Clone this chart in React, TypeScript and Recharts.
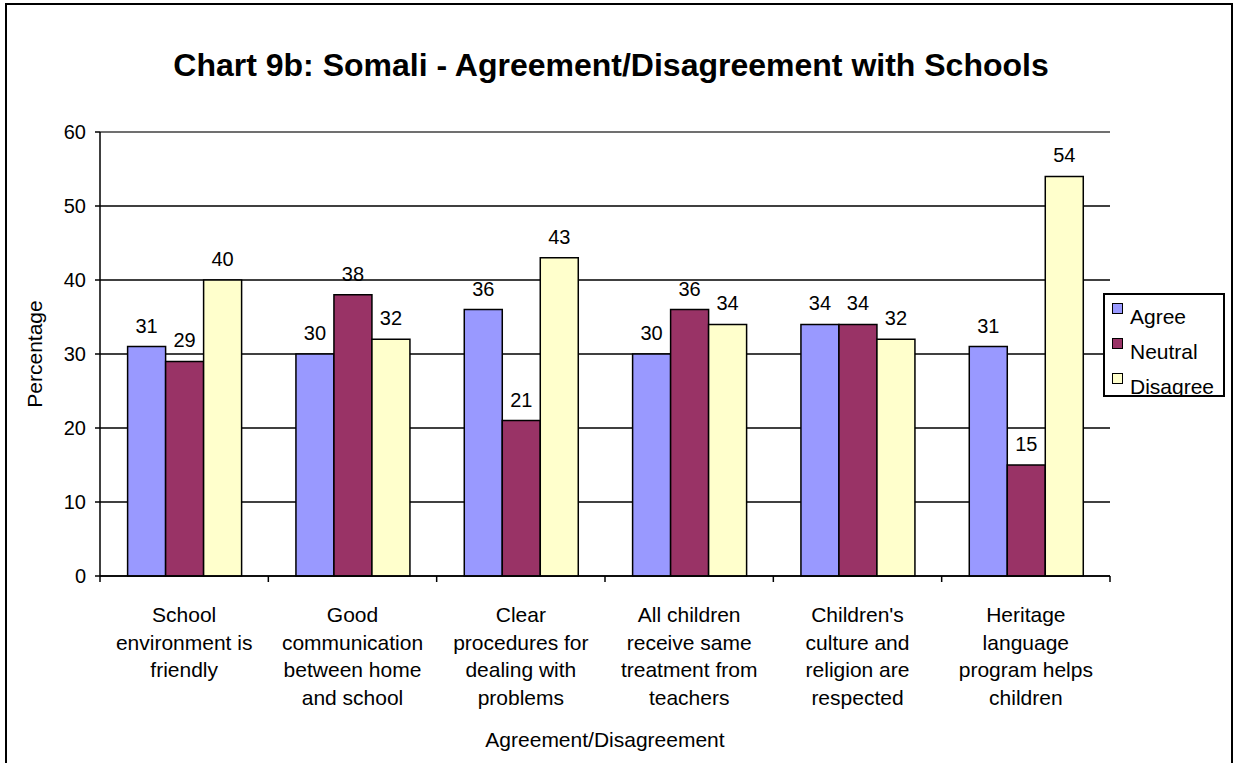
import React from "react";
import { BarChart, Bar, XAxis, YAxis, CartesianGrid, ReferenceLine, LabelList } from "recharts";

const categories = [
  "School\nenvironment is\nfriendly",
  "Good\ncommunication\nbetween home\nand school",
  "Clear\nprocedures for\ndealing with\nproblems",
  "All children\nreceive same\ntreatment from\nteachers",
  "Children's\nculture and\nreligion are\nrespected",
  "Heritage\nlanguage\nprogram helps\nchildren",
];
const agree = [31, 30, 36, 30, 34, 31];
const neutral = [29, 38, 21, 36, 34, 15];
const disagree = [40, 32, 43, 34, 32, 54];
const yTicks = [0, 10, 20, 30, 40, 50, 60];

const seriesNames = ["Agree", "Neutral", "Disagree"];
const seriesKeys = ["agree", "neutral", "disagree"];
const seriesColors = ["#9999FF", "#993366", "#FFFFCC"];

const data = categories.map((c, i) => ({
  cat: c,
  agree: agree[i],
  neutral: neutral[i],
  disagree: disagree[i],
}));

const W = 1233;
const H = 763;
const M = { top: 132, right: 123, bottom: 0, left: 0 };
const Y_W = 100;
const X_H = 187;
const PLOT_W = W - M.left - M.right - Y_W;
const HALF_BAND = PLOT_W / categories.length / 2;
const FONT = "Arial, 'Liberation Sans', sans-serif";

const XTick = (props: any) => {
  const { x, y, payload, index } = props;
  const lines = String(payload.value).split("\n");
  const isLast = index === categories.length - 1;
  return (
    <g>
      <line x1={x - HALF_BAND} x2={x - HALF_BAND} y1={y} y2={y + 6} stroke="#000" strokeWidth={1.5} />
      {isLast && (
        <line x1={x + HALF_BAND} x2={x + HALF_BAND} y1={y} y2={y + 6} stroke="#000" strokeWidth={1.5} />
      )}
      <text x={x} y={y + 46} textAnchor="middle" fontSize={21} fontFamily={FONT} fill="#000">
        {lines.map((l, i) => (
          <tspan key={i} x={x} dy={i === 0 ? 0 : 27.6}>
            {l}
          </tspan>
        ))}
      </text>
    </g>
  );
};

export default function App() {
  return (
    <div style={{ position: "absolute", left: 0, top: 0, width: W, height: H, background: "#fff", overflow: "hidden", fontFamily: FONT }}>
      <div
        style={{
          position: "absolute",
          left: 5,
          top: 3,
          width: 1224,
          height: 800,
          border: "2px solid #000",
        }}
      />
      <div
        style={{
          position: "absolute",
          left: 0,
          top: 45,
          width: 1222,
          textAlign: "center",
          fontWeight: "bold",
          fontSize: 32,
          lineHeight: "40px",
          color: "#000",
        }}
      >
        Chart 9b: Somali - Agreement/Disagreement with Schools
      </div>
      <div style={{ position: "absolute", left: 0, top: 0 }}>
        <BarChart width={W} height={H} data={data} margin={M} barCategoryGap="16.4%" barGap={0}>
          <CartesianGrid horizontal={true} vertical={false} stroke="#000" strokeWidth={1.5} />
          <XAxis
            dataKey="cat"
            height={X_H}
            tickLine={false}
            tickSize={0}
            tickMargin={0}
            interval={0}
            axisLine={{ stroke: "#000", strokeWidth: 1.5 }}
            tick={<XTick />}
            label={{
              value: "Agreement/Disagreement",
              position: "insideBottom",
              offset: 16,
              style: { fontSize: 21, fontFamily: FONT, fill: "#000" },
            }}
          />
          <YAxis
            width={Y_W}
            domain={[0, 60]}
            ticks={yTicks}
            interval={0}
            tickSize={5}
            tickMargin={9}
            axisLine={{ stroke: "#000", strokeWidth: 1.5 }}
            tickLine={{ stroke: "#000", strokeWidth: 1.5 }}
            tick={{ fontSize: 20, fontFamily: FONT, fill: "#000" }}
            label={{
              value: "Percentage",
              angle: -90,
              position: "insideLeft",
              dx: 30,
              style: { fontSize: 21, fontFamily: FONT, fill: "#000", textAnchor: "middle" },
            }}
          />
          <YAxis
            yAxisId="r"
            orientation="right"
            width={0}
            domain={[0, 60]}
            tick={false}
            tickLine={false}
            axisLine={{ stroke: "#808080", strokeWidth: 1.5 }}
          />
          <ReferenceLine y={60} stroke="#808080" strokeWidth={1.5} />
          {seriesKeys.map((k, i) => (
            <Bar key={k} dataKey={k} fill={seriesColors[i]} stroke="#000" strokeWidth={1.5} isAnimationActive={false}>
              <LabelList dataKey={k} position="top" offset={14} fontSize={20} fontFamily={FONT} fill="#000" />
            </Bar>
          ))}
        </BarChart>
      </div>
      <div
        style={{
          position: "absolute",
          left: 1103,
          top: 293,
          width: 118,
          height: 100,
          border: "2px solid #000",
          background: "#fff",
          overflow: "hidden",
        }}
      >
        {seriesNames.map((n, i) => (
          <div key={n} style={{ position: "absolute", left: 0, top: 8 + 35 * i, width: 118, height: 30 }}>
            <div
              style={{
                position: "absolute",
                left: 7,
                top: 0,
                width: 9,
                height: 9,
                border: "1.5px solid #000",
                background: seriesColors[i],
              }}
            />
            <span
              style={{
                position: "absolute",
                left: 25,
                top: 0,
                fontSize: 21,
                lineHeight: "28px",
                color: "#000",
                whiteSpace: "nowrap",
              }}
            >
              {n}
            </span>
          </div>
        ))}
      </div>
    </div>
  );
}
